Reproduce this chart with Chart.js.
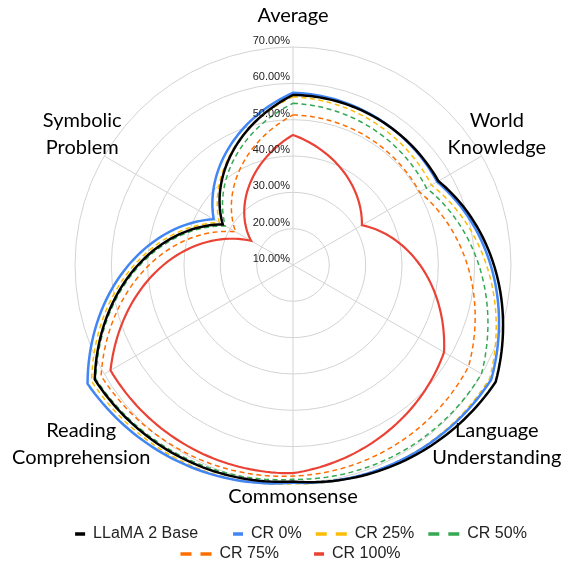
<!DOCTYPE html>
<html>
<head>
<meta charset="utf-8">
<script src="https://cdn.jsdelivr.net/npm/chart.js@4.4.1/dist/chart.umd.min.js"></script>
<style>
  html, body { margin: 0; padding: 0; background: #fff; }
  #wrap { width: 571px; height: 561px; }
</style>
</head>
<body>
<div id="wrap"><canvas id="radarChart" width="571" height="561"></canvas></div>
<script>
// categories, clockwise from the top
const categories = ['Average', ['World', 'Knowledge'], ['Language', 'Understanding'], 'Commonsense', ['Reading', 'Comprehension'], ['Symbolic', 'Problem']];
const seriesNames = ['LLaMA 2 Base', 'CR 0%', 'CR 25%', 'CR 50%', 'CR 75%', 'CR 100%'];

// scores in %
const llamaBase = [56.8, 56.2, 74.4, 69.6, 73.0, 32.3];
const cr0 = [57.4, 55.8, 73.0, 69.9, 75.3, 35.2];
const cr25 = [56.3, 54.0, 72.5, 70.2, 74.0, 33.4];
const cr50 = [54.5, 52.4, 69.9, 69.0, 72.7, 31.5];
const cr75 = [51.3, 50.2, 65.8, 68.1, 71.0, 28.2];
const cr100 = [45.8, 31.9, 58.0, 67.3, 68.0, 23.3];

const tickValues = [10, 20, 30, 40, 50, 60, 70];

const colors = ['#000000', '#4285F4', '#FBBC04', '#34A853', '#FF6D01', '#EA4335'];
const dashed = [false, false, true, true, true, false];
const widths = [2.5, 2.5, 1.5, 1.5, 1.5, 2.2];

const allSeries = [llamaBase, cr0, cr25, cr50, cr75, cr100];

// lines are interpolated in polar space (radius linear in angle) like the original
const polarLines = {
    id: 'polarLines',
    afterDatasetsDraw(chart) {
        const scale = chart.scales.r;
        const ctx = chart.ctx;
        const n = chart.data.labels.length;
        const step = 2 * Math.PI / n;
        const segs = 40;
        for (let d = chart.data.datasets.length - 1; d >= 0; d--) {
            if (!chart.isDatasetVisible(d)) continue;
            const ds = chart.data.datasets[d];
            ctx.save();
            ctx.beginPath();
            for (let i = 0; i < n; i++) {
                const a = ds.data[i];
                const b = ds.data[(i + 1) % n];
                for (let k = 0; k < segs; k++) {
                    const t = k / segs;
                    const r = scale.getDistanceFromCenterForValue(a + (b - a) * t);
                    const p = scale.getPointPosition(i, r, t * step);
                    if (i === 0 && k === 0) ctx.moveTo(p.x, p.y);
                    else ctx.lineTo(p.x, p.y);
                }
            }
            ctx.closePath();
            ctx.lineWidth = ds.borderWidth;
            ctx.strokeStyle = ds.borderColor;
            ctx.setLineDash(ds.borderDash || []);
            ctx.lineJoin = 'miter';
            ctx.stroke();
            ctx.restore();
        }
    }
};

// category labels (centred lines) and tick labels left of the vertical axis
const labelOffsets = [[0, -25], [15, -29], [15, 63], [0, 20], [-23, 63], [-22, -29]];
const radarText = {
    id: 'radarText',
    afterDraw(chart) {
        const scale = chart.scales.r;
        const ctx = chart.ctx;
        ctx.save();
        ctx.fillStyle = '#000';
        ctx.font = '20px Lato';
        ctx.textAlign = 'center';
        ctx.textBaseline = 'alphabetic';
        chart.data.labels.forEach((lbl, i) => {
            const lines = Array.isArray(lbl) ? lbl : [lbl];
            const base = scale.getPointPosition(i, scale.drawingArea);
            const x = base.x + labelOffsets[i][0];
            const y = base.y + labelOffsets[i][1];
            lines.forEach((line, j) => ctx.fillText(line, x, y + j * 26.5));
        });
        ctx.font = '11px "Liberation Sans"';
        ctx.fillStyle = '#222';
        ctx.textAlign = 'right';
        scale.ticks.forEach((tick) => {
            const r = scale.getDistanceFromCenterForValue(tick.value);
            ctx.fillText(tick.label, scale.xCenter - 3, scale.yCenter - r - 3);
        });
        ctx.restore();
    }
};

const datasets = allSeries.map((values, i) => ({
    label: seriesNames[i],
    data: values,
    borderColor: colors[i],
    backgroundColor: colors[i],
    borderWidth: widths[i],
    borderDash: dashed[i] ? [5, 3.5] : [],
    showLine: false,
    fill: false,
    pointRadius: 0,
    pointHoverRadius: 0
}));

new Chart(document.getElementById('radarChart'), {
    type: 'radar',
    data: {
        labels: categories,
        datasets: datasets
    },
    options: {
        responsive: false,
        animation: false,
        devicePixelRatio: 1,
        layout: {
            padding: { top: 0, left: 0, right: 0, bottom: -11 }
        },
        scales: {
            r: {
                min: tickValues[0],
                max: tickValues[tickValues.length - 1],
                afterBuildTicks: (scale) => {
                    scale.ticks = tickValues.map(v => ({ value: v }));
                },
                ticks: {
                    display: false,
                    callback: (v) => v.toFixed(2) + '%'
                },
                pointLabels: { display: false },
                grid: { circular: true, color: '#d3d3d3', lineWidth: 1 },
                angleLines: { color: '#d3d3d3', lineWidth: 1 },
                afterFit: (scale) => {
                    scale.drawingArea = 218;
                    scale.xCenter = 293;
                    scale.yCenter = 265;
                }
            }
        },
        plugins: {
            tooltip: { enabled: false },
            legend: {
                position: 'bottom',
                labels: {
                    usePointStyle: true,
                    pointStyleWidth: 41,
                    padding: 4,
                    color: '#222',
                    font: { family: 'Liberation Sans', size: 16 },
                    // marker keeps a blank lead-in so the gap before each item matches
                    generateLabels: (chart) => chart.data.datasets.map((ds, i) => ({
                        text: ds.label,
                        fillStyle: colors[i],
                        strokeStyle: colors[i],
                        fontColor: '#222',
                        lineWidth: 3.5,
                        lineCap: 'butt',
                        lineDash: dashed[i] ? [0, 10, 11, 9, 11, 0] : [0, 31, 10, 0],
                        pointStyle: 'line',
                        hidden: !chart.isDatasetVisible(i),
                        datasetIndex: i
                    }))
                }
            }
        }
    },
    plugins: [polarLines, radarText]
});
</script>
</body>
</html>
